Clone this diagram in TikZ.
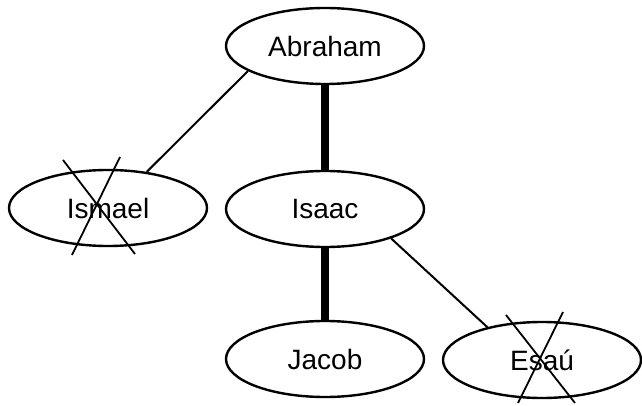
\documentclass[tikz,border=0pt]{standalone}
\usepackage{fontspec}
\setmainfont{Liberation Sans}
\usetikzlibrary{shapes.geometric}
\begin{document}
\begin{tikzpicture}[x=1pt,y=-1pt,
  person/.style={ellipse,draw,line width=2.4pt,minimum width=198pt,minimum height=76pt,
    inner sep=0pt,font=\fontsize{28}{32}\selectfont},
  kin/.style={line width=2pt},
  heir/.style={line width=8pt},
  strike/.style={line width=1.8pt}]
\useasboundingbox (0,0) rectangle (642,406);
\node[person] (abraham) at (325,46) {Abraham};
\node[person] (ismael) at (108,208) {Ismael};
\node[person] (isaac) at (325,209) {Isaac};
\node[person] (jacob) at (325,359) {Jacob};
\node[person] (esau) at (542,360) {Esaú};
% lines of descent
\draw[kin] (abraham.198) -- (ismael.43);
\draw[heir] (abraham.south) -- (isaac.north);
\draw[heir] (isaac.south) -- (jacob.north);
\draw[kin] (isaac.336) -- (esau.149);
% crossed-out names
\coordinate (i1) at (63,160); \coordinate (i2) at (135,254);
\coordinate (i3) at (120,157); \coordinate (i4) at (72,255);
\draw[strike] (i1) -- (i2);
\draw[strike] (i3) -- (i4);
\coordinate (e1) at (506,315); \coordinate (e2) at (575,403);
\coordinate (e3) at (563,312); \coordinate (e4) at (518,403);
\draw[strike] (e1) -- (e2);
\draw[strike] (e3) -- (e4);
\end{tikzpicture}
\end{document}
